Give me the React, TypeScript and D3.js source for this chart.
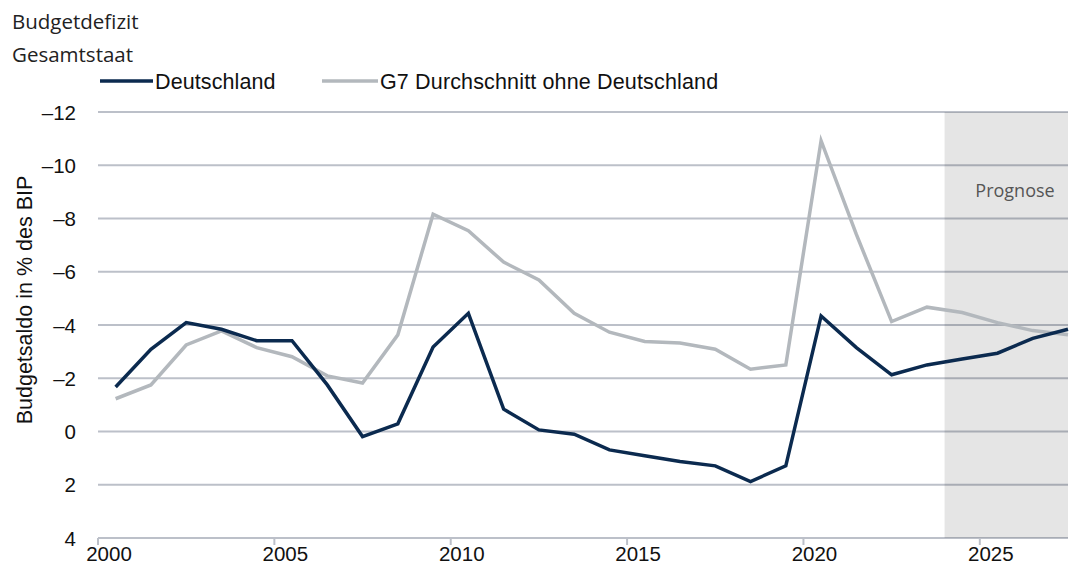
import React from 'react';
import * as d3 from 'd3';

// years shown on the category axis
const years = [
  2000, 2001, 2002, 2003, 2004, 2005, 2006, 2007, 2008, 2009,
  2010, 2011, 2012, 2013, 2014, 2015, 2016, 2017, 2018, 2019,
  2020, 2021, 2022, 2023, 2024, 2025, 2026, 2027,
];

// Budgetsaldo in % des BIP (axis is inverted: deficits shown upwards)
const deutschland = [
  -1.67, -3.09, -4.09, -3.84, -3.41, -3.41, -1.75, 0.19, -0.29, -3.17,
  -4.44, -0.84, -0.06, 0.1, 0.69, 0.91, 1.13, 1.29, 1.88, 1.29,
  -4.34, -3.15, -2.13, -2.5, -2.72, -2.94, -3.5, -3.84,
];
const g7 = [
  -1.23, -1.75, -3.25, -3.78, -3.15, -2.81, -2.09, -1.82, -3.63, -8.16,
  -7.54, -6.36, -5.69, -4.44, -3.73, -3.38, -3.32, -3.09, -2.34, -2.5,
  -10.92, -7.4, -4.13, -4.67, -4.47, -4.09, -3.79, -3.63,
];

const yTicks = [-12, -10, -8, -6, -4, -2, 0, 2, 4];
const xLabelYears = [2000, 2005, 2010, 2015, 2020, 2025];
const forecastFrom = 2024;

const W = 1070;
const H = 565;
const left = 98;
const right = 1068;
const top = 112;
const bottom = 538;

const navy = '#0b2a4f';
const silver = '#b3b8bd';
const grid = '#bcc0c9';
const font = '"Liberation Sans", Arial, sans-serif';
const font2 = '"Open Sans", "Noto Sans", sans-serif';

const App: React.FC = () => {
  const first = years[0];
  const x = d3.scaleLinear().domain([-0.5, years.length - 1]).range([left, right]);
  const y = d3.scaleLinear().domain([-12, 4]).range([top, bottom]);

  const line = d3
    .line<number>()
    .x((_, i) => x(i))
    .y((d) => y(d));

  const fmt = (v: number) => (v < 0 ? '\u2013' + Math.abs(v) : String(v));

  return (
    <svg
      width={W}
      height={H}
      style={{ position: 'absolute', left: 0, top: 0, background: '#fff' }}
    >
      {/* title */}
      <text x={12} y={29} fontFamily={font2} fontSize={20.5} fill="#222">Budgetdefizit</text>
      <text x={12} y={62} fontFamily={font2} fontSize={20.5} fill="#222">Gesamtstaat</text>

      {/* legend */}
      <line x1={100} x2={153} y1={81} y2={81} stroke={navy} strokeWidth={3.5} />
      <text x={155} y={88.5} fontFamily={font} fontSize={21.5} letterSpacing={0.1} fill="#111">Deutschland</text>
      <line x1={322} x2={378} y1={81} y2={81} stroke={silver} strokeWidth={3.5} />
      <text x={380} y={88.5} fontFamily={font} fontSize={21.5} letterSpacing={0.15} fill="#111">G7 Durchschnitt ohne Deutschland</text>

      {/* gridlines */}
      {yTicks.map((t) => (
        <line key={t} x1={left} x2={right} y1={y(t)} y2={y(t)} stroke={grid} strokeWidth={2} />
      ))}

      {/* forecast shading */}
      <rect
        x={x(forecastFrom - first - 0.5)}
        y={top}
        width={right - x(forecastFrom - first - 0.5)}
        height={bottom - top}
        fill="#000"
        fillOpacity={0.1}
      />
      <text x={1015} y={197} textAnchor="middle" fontFamily={font2} fontSize={18} fill="#555">Prognose</text>

      {/* x ticks + labels */}
      {xLabelYears.map((yr) => {
        const xv = x(yr - first - 0.5);
        return (
          <g key={yr}>
            <line x1={xv} x2={xv} y1={bottom} y2={bottom + 7} stroke={grid} strokeWidth={2} />
            <text x={xv + 11} y={561} textAnchor="middle" fontFamily={font} fontSize={20.5} fill="#111">
              {yr}
            </text>
          </g>
        );
      })}

      {/* y labels */}
      {yTicks.map((t) => (
        <text key={t} x={76} y={y(t) + 7.5} textAnchor="end" fontFamily={font} fontSize={20.5} fill="#111">
          {fmt(t)}
        </text>
      ))}
      <text
        transform="translate(32, 300) rotate(-90)"
        textAnchor="middle"
        fontFamily={font}
        fontSize={21.5}
        fill="#111"
      >
        Budgetsaldo in % des BIP
      </text>

      {/* series */}
      <path d={line(g7) || ''} fill="none" stroke={silver} strokeWidth={3.5} strokeLinejoin="miter" />
      <path d={line(deutschland) || ''} fill="none" stroke={navy} strokeWidth={3.5} strokeLinejoin="miter" />
    </svg>
  );
};

export default App;
